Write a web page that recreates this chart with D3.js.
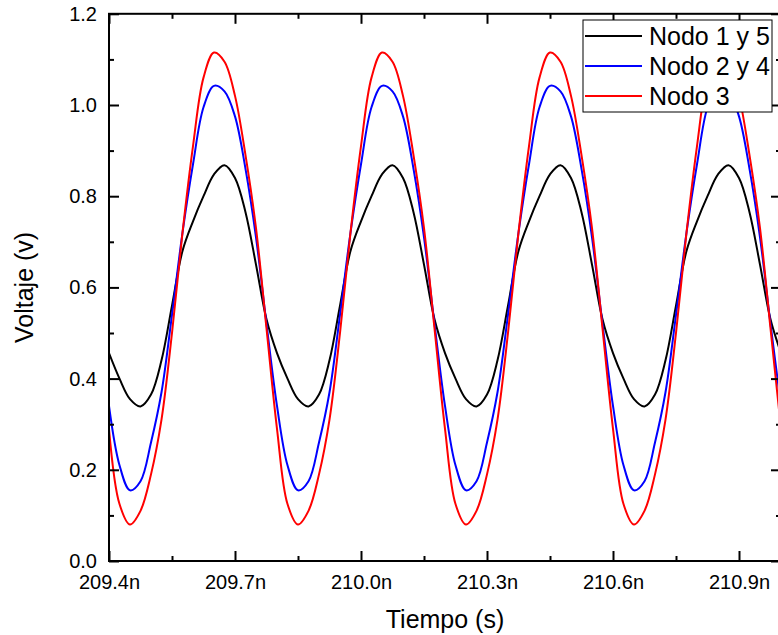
<!DOCTYPE html>
<html>
<head>
<meta charset="utf-8">
<script src="https://cdn.jsdelivr.net/npm/d3@7"></script>
<style>
  body { margin: 0; background: #fff; }
  text { font-family: "Liberation Sans", Arial, sans-serif; fill: #000; }
</style>
</head>
<body>
<div id="chart"></div>
<script>
// Time samples (ns)
var tiempo = [
  209.400, 209.425, 209.450, 209.475, 209.500, 209.525, 209.550, 209.575,
  209.600, 209.625, 209.650, 209.675, 209.700, 209.725, 209.750, 209.775,
  209.800, 209.825, 209.850, 209.875, 209.900, 209.925, 209.950, 209.975,
  210.000, 210.025, 210.050, 210.075, 210.100, 210.125, 210.150, 210.175,
  210.200, 210.225, 210.250, 210.275, 210.300, 210.325, 210.350, 210.375,
  210.400, 210.425, 210.450, 210.475, 210.500, 210.525, 210.550, 210.575,
  210.600, 210.625, 210.650, 210.675, 210.700, 210.725, 210.750, 210.775,
  210.800, 210.825, 210.850, 210.875, 210.900, 210.925, 210.950, 210.975,
  211.000
];

// Voltages
var nodo15 = [
  0.456, 0.40, 0.355, 0.339, 0.365, 0.44, 0.56, 0.68, 0.745, 0.80, 0.848, 0.868, 0.84, 0.765, 0.65, 0.53,
  0.456, 0.40, 0.355, 0.339, 0.365, 0.44, 0.56, 0.68, 0.745, 0.80, 0.848, 0.868, 0.84, 0.765, 0.65, 0.53,
  0.456, 0.40, 0.355, 0.339, 0.365, 0.44, 0.56, 0.68, 0.745, 0.80, 0.848, 0.868, 0.84, 0.765, 0.65, 0.53,
  0.456, 0.40, 0.355, 0.339, 0.365, 0.44, 0.56, 0.68, 0.745, 0.80, 0.848, 0.868, 0.84, 0.765, 0.65, 0.53,
  0.456
];
var nodo24 = [
  0.34, 0.21, 0.155, 0.175, 0.26, 0.37, 0.54, 0.72, 0.87, 0.995, 1.042, 1.03, 0.975, 0.86, 0.71, 0.52,
  0.34, 0.21, 0.155, 0.175, 0.26, 0.37, 0.54, 0.72, 0.87, 0.995, 1.042, 1.03, 0.975, 0.86, 0.71, 0.52,
  0.34, 0.21, 0.155, 0.175, 0.26, 0.37, 0.54, 0.72, 0.87, 0.995, 1.042, 1.03, 0.975, 0.86, 0.71, 0.52,
  0.34, 0.21, 0.155, 0.175, 0.26, 0.37, 0.54, 0.72, 0.87, 0.995, 1.042, 1.03, 0.975, 0.86, 0.71, 0.52,
  0.34
];
var nodo3 = [
  0.29, 0.125, 0.08, 0.11, 0.19, 0.31, 0.50, 0.72, 0.91, 1.06, 1.115, 1.095, 1.02, 0.89, 0.73, 0.51,
  0.29, 0.125, 0.08, 0.11, 0.19, 0.31, 0.50, 0.72, 0.91, 1.06, 1.115, 1.095, 1.02, 0.89, 0.73, 0.51,
  0.29, 0.125, 0.08, 0.11, 0.19, 0.31, 0.50, 0.72, 0.91, 1.06, 1.115, 1.095, 1.02, 0.89, 0.73, 0.51,
  0.29, 0.125, 0.08, 0.11, 0.19, 0.31, 0.50, 0.72, 0.91, 1.06, 1.115, 1.095, 1.02, 0.89, 0.73, 0.51,
  0.29
];

var seriesNames = ["Nodo 1 y 5", "Nodo 2 y 4", "Nodo 3"];
var seriesColors = ["#000000", "#0000ff", "#ff0000"];
var xMajor = [209.4, 209.7, 210.0, 210.3, 210.6, 210.9];
var xMinor = [209.55, 209.85, 210.15, 210.45, 210.75];
var yMajor = [0.0, 0.2, 0.4, 0.6, 0.8, 1.0, 1.2];
var yMinor = [0.1, 0.3, 0.5, 0.7, 0.9, 1.1];

var svgWidth = 778;
var svgHeight = 635;

// plot frame (right edge falls just outside the window)
var plot = { left: 109, right: 781, top: 13.8, bottom: 561 };

var svg = d3.select("#chart")
  .append("svg")
  .attr("width", svgWidth)
  .attr("height", svgHeight);

var x = d3.scaleLinear().domain([209.4, 211.0]).range([plot.left, plot.right]);
var y = d3.scaleLinear().domain([0, 1.2]).range([plot.bottom, plot.top]);

svg.append("clipPath").attr("id", "plot-clip")
  .append("rect")
  .attr("x", plot.left).attr("y", plot.top)
  .attr("width", plot.right - plot.left).attr("height", plot.bottom - plot.top);

// curves
var data = [nodo15, nodo24, nodo3];
var line = d3.line()
  .x((d, i) => x(tiempo[i]))
  .y(d => y(d))
  .curve(d3.curveCatmullRom.alpha(0.5));

svg.append("g")
  .attr("clip-path", "url(#plot-clip)")
  .selectAll("path")
  .data(data)
  .enter()
  .append("path")
  .attr("d", d => line(d))
  .attr("fill", "none")
  .attr("stroke", (d, i) => seriesColors[i])
  .attr("stroke-width", 2);

// axes, ticks pointing inward on all four sides
function styleAxis(g) {
  g.attr("font-size", null).attr("font-family", null);
  g.select(".domain").remove();
  g.selectAll(".tick line").attr("stroke", "#000").attr("stroke-width", 2);
  g.selectAll(".tick text")
    .style("font-size", "20px")
    .attr("fill", "#000");
}

svg.append("g")
  .attr("transform", `translate(0, ${plot.bottom})`)
  .call(d3.axisBottom(x).tickValues(xMajor).tickSize(-10).tickSizeOuter(0)
    .tickPadding(14).tickFormat(d => d.toFixed(1) + "n"))
  .call(styleAxis);
svg.append("g")
  .attr("transform", `translate(0, ${plot.bottom})`)
  .call(d3.axisBottom(x).tickValues(xMinor).tickSize(-5).tickSizeOuter(0).tickFormat(""))
  .call(styleAxis);

svg.append("g")
  .attr("transform", `translate(0, ${plot.top})`)
  .call(d3.axisTop(x).tickValues(xMajor).tickSize(-10).tickSizeOuter(0).tickFormat(""))
  .call(styleAxis);
svg.append("g")
  .attr("transform", `translate(0, ${plot.top})`)
  .call(d3.axisTop(x).tickValues(xMinor).tickSize(-5).tickSizeOuter(0).tickFormat(""))
  .call(styleAxis);

svg.append("g")
  .attr("transform", `translate(${plot.left}, 0)`)
  .call(d3.axisLeft(y).tickValues(yMajor).tickSize(-10).tickSizeOuter(0)
    .tickPadding(12).tickFormat(d => d.toFixed(1)))
  .call(styleAxis);
svg.append("g")
  .attr("transform", `translate(${plot.left}, 0)`)
  .call(d3.axisLeft(y).tickValues(yMinor).tickSize(-5).tickSizeOuter(0).tickFormat(""))
  .call(styleAxis);

svg.append("g")
  .attr("transform", `translate(${plot.right}, 0)`)
  .call(d3.axisRight(y).tickValues(yMajor).tickSize(-10).tickSizeOuter(0).tickFormat(""))
  .call(styleAxis);
svg.append("g")
  .attr("transform", `translate(${plot.right}, 0)`)
  .call(d3.axisRight(y).tickValues(yMinor).tickSize(-5).tickSizeOuter(0).tickFormat(""))
  .call(styleAxis);

// frame
svg.append("rect")
  .attr("x", plot.left).attr("y", plot.top)
  .attr("width", plot.right - plot.left).attr("height", plot.bottom - plot.top)
  .attr("fill", "none")
  .attr("stroke", "#000")
  .attr("stroke-width", 2);

// axis titles
svg.append("text")
  .attr("x", (plot.left + plot.right) / 2)
  .attr("y", 628)
  .attr("text-anchor", "middle")
  .style("font-size", "25px")
  .text("Tiempo (s)");

svg.append("text")
  .attr("transform", `translate(33, ${(plot.top + plot.bottom) / 2}) rotate(-90)`)
  .attr("text-anchor", "middle")
  .style("font-size", "25px")
  .text("Voltaje (v)");

// legend
var legend = svg.append("g");
legend.append("rect")
  .attr("x", 583).attr("y", 20)
  .attr("width", 189).attr("height", 92)
  .attr("fill", "#fff")
  .attr("stroke", "#000")
  .attr("stroke-width", 1);

var rows = legend.selectAll("g.row")
  .data(seriesNames)
  .enter()
  .append("g")
  .attr("class", "row")
  .attr("transform", (d, i) => `translate(0, ${36 + i * 30})`);

rows.append("line")
  .attr("x1", 585).attr("x2", 642)
  .attr("y1", 0).attr("y2", 0)
  .attr("stroke", (d, i) => seriesColors[i])
  .attr("stroke-width", 2);

rows.append("text")
  .attr("x", 649)
  .attr("y", 0)
  .attr("dy", "0.36em")
  .style("font-size", "25px")
  .text(d => d);
</script>
</body>
</html>
